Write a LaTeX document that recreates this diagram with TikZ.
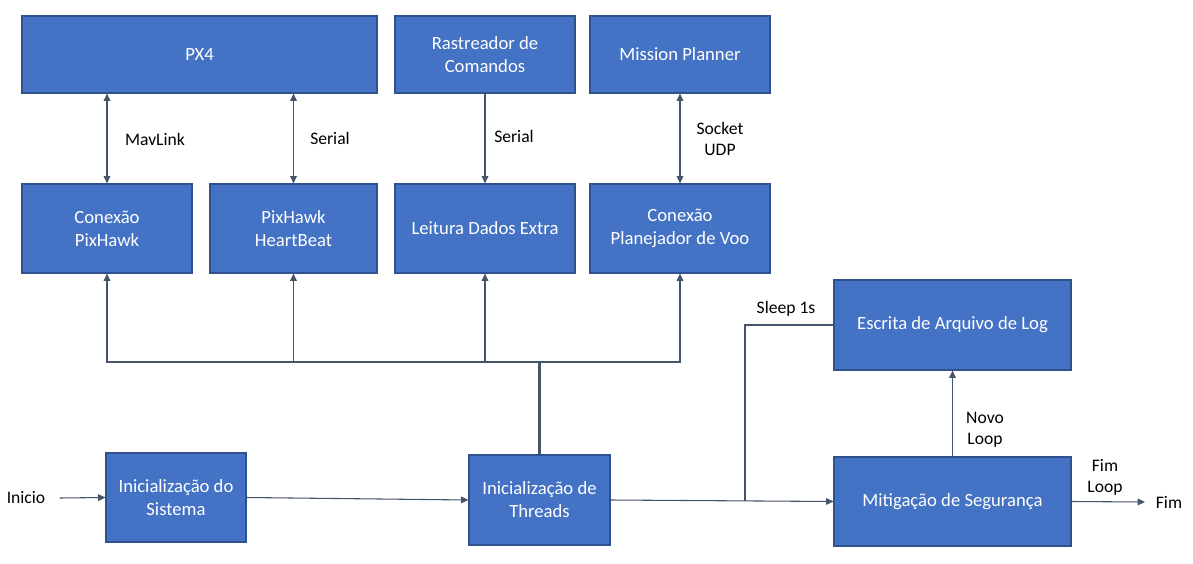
\documentclass[tikz,border=0pt]{standalone}
\usepackage{fontspec}
\setmainfont{Carlito}
\usetikzlibrary{arrows.meta}
\definecolor{boxfill}{HTML}{4472C4}
\definecolor{boxline}{HTML}{2F528F}
\definecolor{conn}{HTML}{44546A}
\tikzset{
  blk/.style={draw=boxline, line width=0.9pt, fill=boxfill, text=white, align=center, inner sep=0pt,
    font=\fontsize{14}{17.25}\selectfont},
  lbl/.style={align=center, inner sep=0pt, font=\fontsize{13.2}{15.75}\selectfont},
  conline/.style={draw=conn, line width=0.8pt},
  arr/.style={conline, -{Triangle[length=5.5pt,width=5pt]}},
  biarr/.style={conline, {Triangle[length=5.5pt,width=5pt]}-{Triangle[length=5.5pt,width=5pt]}},
}
\begin{document}
\begin{tikzpicture}[x=0.75pt,y=-0.75pt]
\useasboundingbox[fill=white] (0,0) rectangle (1193,564);
% top row
\node[blk, minimum width=355*0.75pt, minimum height=77*0.75pt] (px4) at (199.5,54.5) {PX4};
\node[blk, minimum width=180*0.75pt, minimum height=77*0.75pt] (rast) at (485,54.5) {Rastreador de\\Comandos};
\node[blk, minimum width=180*0.75pt, minimum height=77*0.75pt] (mp) at (680,54.5) {Mission Planner};
% second row
\node[blk, minimum width=170*0.75pt, minimum height=89*0.75pt] (cpx) at (107,228.5) {Conexão\\PixHawk};
\node[blk, minimum width=167*0.75pt, minimum height=89*0.75pt] (hb) at (293.5,228.5) {PixHawk\\HeartBeat};
\node[blk, minimum width=180*0.75pt, minimum height=89*0.75pt] (lde) at (485,228.5) {Leitura Dados Extra};
\node[blk, minimum width=180*0.75pt, minimum height=89*0.75pt] (cpv) at (680,228.5) {Conexão\\Planejador de Voo};
% right
\node[blk, minimum width=237*0.75pt, minimum height=90*0.75pt] (log) at (952.5,325) {Escrita de Arquivo de Log};
\node[blk, minimum width=237*0.75pt, minimum height=89*0.75pt] (mit) at (952.5,501.5) {Mitigação de Segurança};
% bottom
\node[blk, minimum width=140*0.75pt, minimum height=89*0.75pt] (sis) at (176,497.5) {Inicialização do\\Sistema};
\node[blk, minimum width=141*0.75pt, minimum height=90*0.75pt] (thr) at (539.5,500) {Inicialização de\\Threads};
% free texts
\node[lbl] (ini) at (26,498) {Inicio};
\node[lbl] (fim) at (1169,502) {Fim};
% top connectors
\draw[biarr] (cpx.north |- px4.south) -- (cpx.north);
\node[lbl] (lmav) at (155,139) {MavLink};
\draw[biarr] (hb.north |- px4.south) -- (hb.north);
\node[lbl] (lser1) at (330,138) {Serial};
\draw[arr] (rast.south) -- (lde.north);
\node[lbl] (lser2) at (514,136) {Serial};
\draw[biarr] (mp.south) -- (cpv.north);
\node[lbl] (lsock) at (720,138.5) {Socket\\UDP};
% bus
\coordinate (bj) at (539.5,362);
\draw[draw=conn, line width=1.7pt] (thr.north) -- (bj);
\draw[arr] (bj) -| (cpx.south);
\draw[arr] (bj) -| (hb.south);
\draw[arr] (bj) -| (lde.south);
\draw[arr] (bj) -| (cpv.south);
% main flow
\draw[arr] ([xshift=10.5pt]ini.east) -- (sis.west);
\draw[arr] (sis.east) -- (thr.west);
\draw[arr] (thr.east) -- (mit.west);
\coordinate (sl) at (745,501);
\draw[conline] (log.west) -| (sl);
\node[lbl] (lsleep) at (786,309) {Sleep 1s};
\draw[arr] (mit.north) -- (log.south);
\node[lbl] (lnovo) at (985,430) {Novo\\Loop};
\draw[arr] (mit.east) -- ([xshift=-8pt]fim.west);
\node[lbl] (lfim) at (1105,477.5) {Fim\\Loop};
\end{tikzpicture}
\end{document}
